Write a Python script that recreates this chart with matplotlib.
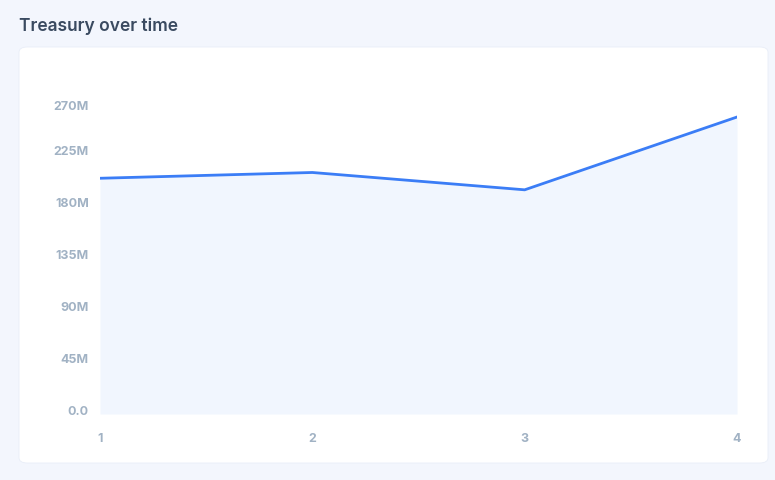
import matplotlib
matplotlib.use('Agg')
from matplotlib import pyplot as plt
from matplotlib.patches import FancyBboxPatch
from matplotlib.ticker import FuncFormatter
from matplotlib.transforms import ScaledTranslation

# data
periods = [1, 2, 3, 4]
treasury = [204e6, 209e6, 194e6, 257e6]
y_ticks = [0, 45e6, 90e6, 135e6, 180e6, 225e6, 270e6]

plt.rcParams['font.family'] = ['Inter', 'DejaVu Sans']

W, H = 775, 481
fig = plt.figure(figsize=(W / 100, H / 100), dpi=100)
fig.patch.set_facecolor('#f3f6fd')

# white card
card = FancyBboxPatch((19 / W, 1 - 464 / H), (768 - 19) / W, (464 - 48) / H,
                      boxstyle='round,pad=0,rounding_size=0.011',
                      transform=fig.transFigure, facecolor='white',
                      edgecolor='#e9eef8', linewidth=0.6, zorder=-1)
fig.patches.append(card)

fig.text(19 / W, 1 - 26 / H, 'Treasury over time', fontsize=12.5, fontweight='semibold',
         color='#3a4a60', va='center', ha='left')

ax = fig.add_axes([100 / W, 1 - 415 / H, (737 - 100) / W, (415 - 103) / H])
ax.set_zorder(2)
ax.set_facecolor('none')
ax.plot(periods, treasury, color='#3b7df6', linewidth=2, solid_joinstyle='round', zorder=3)
ax.fill_between(periods, treasury, 0, color='#f1f6fe', linewidth=0, zorder=2)

ax.set_xlim(1, 4)
ax.set_ylim(0, 270e6)
ax.set_xticks(periods)
ax.set_yticks(y_ticks)


def fmt(v, pos):
    if v == 0:
        return '0.0'
    return f'{v / 1e6:.0f}M'


ax.yaxis.set_major_formatter(FuncFormatter(fmt))
for s in ax.spines.values():
    s.set_visible(False)
ax.tick_params(axis='both', length=0, labelsize=9, labelcolor='#a1b2c4')
ax.tick_params(axis='y', pad=8)
ax.tick_params(axis='x', pad=13)
shift_up = ScaledTranslation(0, 4 / 100, fig.dpi_scale_trans)
shift_top = ScaledTranslation(0, -3 / 100, fig.dpi_scale_trans)
for lab in ax.get_xticklabels():
    lab.set_fontweight('bold')
ylabels = ax.get_yticklabels()
for i, lab in enumerate(ylabels):
    lab.set_fontweight('bold')
    if i == len(ylabels) - 1:
        lab.set_transform(lab.get_transform() + shift_top)
    else:
        lab.set_transform(lab.get_transform() + shift_up)

fig.savefig('out.png', dpi=100, facecolor=fig.get_facecolor())
